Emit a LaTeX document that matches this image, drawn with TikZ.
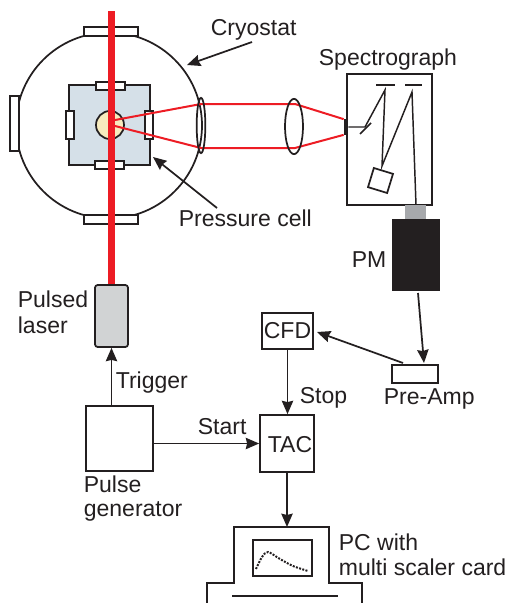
\documentclass[tikz,border=0pt]{standalone}
\usepackage{fontspec}
\setmainfont{Liberation Sans}
\usepackage{xcolor}
\usetikzlibrary{arrows.meta,shapes.geometric}
\definecolor{beamred}{HTML}{ED1C24}
\definecolor{inkblack}{HTML}{231F20}
\definecolor{cellblue}{HTML}{D5E0E8}
\definecolor{samplecream}{HTML}{F7EBBE}
\definecolor{lasergray}{HTML}{D1D3D4}
\definecolor{adaptergray}{HTML}{A7A9AC}

\begin{document}
\begin{tikzpicture}[x=.75pt,y=-.75pt,line width=1.3pt,color=inkblack,
  >={Stealth[length=10pt,width=8.5pt,inset=1pt]},
  block/.style 2 args={draw,rectangle,inner sep=0pt,minimum width=#1*.75pt,minimum height=#2*.75pt}]
\tikzstyle{tag} = [inner sep=0pt,anchor=west,font=\fontsize{17.25}{20}\selectfont]
\tikzstyle{window} = [fill=white]
\tikzstyle{ray} = [beamred,line width=1.5pt]
\useasboundingbox (0,0) rectangle (508,603);

% cryostat and pressure cell
\node[draw,circle,inner sep=0pt,minimum size=139.5pt](cryostat) at (109,125.5) {};
\node[block={54}{9},window](wintop) at (111,31.5) {};
\node[block={54}{9},window](winbot) at (111,219.5) {};
\node[block={9}{55},window](winleft) at (14.5,123.5) {};
\node[block={81}{80},fill=cellblue](cell) at (109.5,125) {};
\node[block={29}{8},window](celltop) at (110.5,86) {};
\node[block={29}{8},window](cellbot) at (109.5,165) {};
\node[block={8}{28},window](cellleft) at (70,125) {};
\node[block={8}{28},window](cellright) at (149,125) {};
\node[draw,circle,inner sep=0pt,minimum size=21pt,fill=samplecream](sample) at (110,125) {};

% optics
\node[block={85}{131}](spec) at (389.5,139.5) {};
\node[block={3}{14},fill=inkblack](slit) at (346,127) {};
\coordinate(upO) at (115,120);
\coordinate(lowO) at (115,126);
\coordinate(upA) at (201,104);
\coordinate(upB) at (295,104);
\coordinate(lowA) at (201,148);
\coordinate(lowB) at (295,148);
\draw[ray] (upO) -- (upA) -- (upB) -- (slit.north west);
\draw[ray] (lowO) -- (lowA) -- (lowB) -- (slit.south west);
\node[draw,ellipse,inner sep=0pt,minimum width=6.5pt,minimum height=41.5pt](lensA) at (201,125.5) {};
\node[draw,ellipse,inner sep=0pt,minimum width=13.5pt,minimum height=41.5pt](lensB) at (294,126.5) {};
\coordinate(beamstop) at (111.5,11);
\node[block={33}{62},fill=lasergray,rounded corners=2pt](laser) at (111.5,316) {};
\draw[beamred,line width=5.4pt] (beamstop) -- (laser.north);

% inside the spectrograph
\coordinate(foldA) at (365,127);
\coordinate(foldB) at (385,90);
\coordinate(foldC) at (382,166);
\coordinate(foldD) at (412,92);
\coordinate(exit) at (416,205);
\draw[line width=1.1pt] (slit.east) -- (foldA) -- (foldB) -- (foldC) -- (foldD) -- (exit);
\coordinate(mirrorA) at (360,134);
\coordinate(mirrorB) at (371,123);
\coordinate(mirrorC) at (376,85);
\coordinate(mirrorD) at (395,85);
\coordinate(mirrorE) at (405,85);
\coordinate(mirrorF) at (422,85);
\foreach \from/\to in {mirrorA/mirrorB, mirrorC/mirrorD, mirrorE/mirrorF}
\draw (\from) -- (\to);
\node[block={20}{20},rotate=-17](grating) at (380.5,180.5) {};
\node[block={21}{14},fill=adaptergray,draw=none](adapter) at (415.5,212) {};
\node[block={48}{72},fill=inkblack,draw=none](pm) at (416,255) {};

% electronics
\node[block={46}{18}](preamp) at (415,374) {};
\node[block={51}{36},font=\fontsize{17.25}{20}\selectfont](cfd) at (287.5,331) {CFD};
\node[block={54}{57}](tac) at (287,443.5) {};
\node[block={67}{65}](pulsegen) at (119.5,438.5) {};
\coordinate(pmout) at (418,293);
\coordinate(preampin) at (424,363);
\coordinate(preampout) at (403,363);
\coordinate(cfdin) at (317,332);
\draw[->] (pmout) -- (preampin);
\draw[->] (preampout) -- (cfdin);
\draw[->] (cfd.south) -- (cfd.south |- tac.north);
\draw[->] (pulsegen.east |- tac.west) -- (tac.west);
\draw[->] (pulsegen.north -| laser.south) -- (laser.south);

% computer
\coordinate(pctop) at (tac.south |- 0,527);
\draw (207,603) -- (207,583) -- (234,583) -- (234,527) -- (329,527) -- (329,583) -- (362,583) -- (362,603);
\draw[->] (tac.south) -- (pctop);
\node[block={59}{36}](screen) at (282.5,558) {};
\coordinate(keyA) at (232,596);
\coordinate(keyB) at (338,596);
\draw (keyA) -- (keyB);
\draw[densely dotted,line width=1.5pt] plot[smooth] coordinates {(256,569) (262,557) (268,552) (280,559) (293,566) (308,571)};

% labels
\node[tag](cryolabel) at (210,30) {Cryostat};
\node[tag](speclabel) at (318,60) {Spectrograph};
\node[tag](celllabel) at (178,218) {Pressure cell};
\node[tag](pmlabel) at (351,260) {PM};
\node[tag](pulsedlabel) at (17,299) {Pulsed};
\node[tag](laserlabel) at (17,325) {laser};
\node[tag](triglabel) at (115,383) {Trigger};
\node[tag](stoplabel) at (299,398) {Stop};
\node[tag](amplabel) at (383,399) {Pre-Amp};
\node[tag](startlabel) at (197,427) {Start};
\node[tag](taclabel) at (267,445) {TAC};
\node[tag](pulselabel) at (83,484) {Pulse};
\node[tag](genlabel) at (83,511) {generator};
\node[tag](pclabel) at (338,542) {PC with};
\node[tag](cardlabel) at (338,567) {multi scaler card};

\coordinate(cryotail) at (252,42);
\coordinate(cryotip) at (187,65);
\coordinate(celltail) at (217,208);
\coordinate(celltip) at (153,157);
\foreach \from/\to in {cryotail/cryotip, celltail/celltip}
\draw [->] (\from) -- (\to);

\end{tikzpicture}
\end{document}
